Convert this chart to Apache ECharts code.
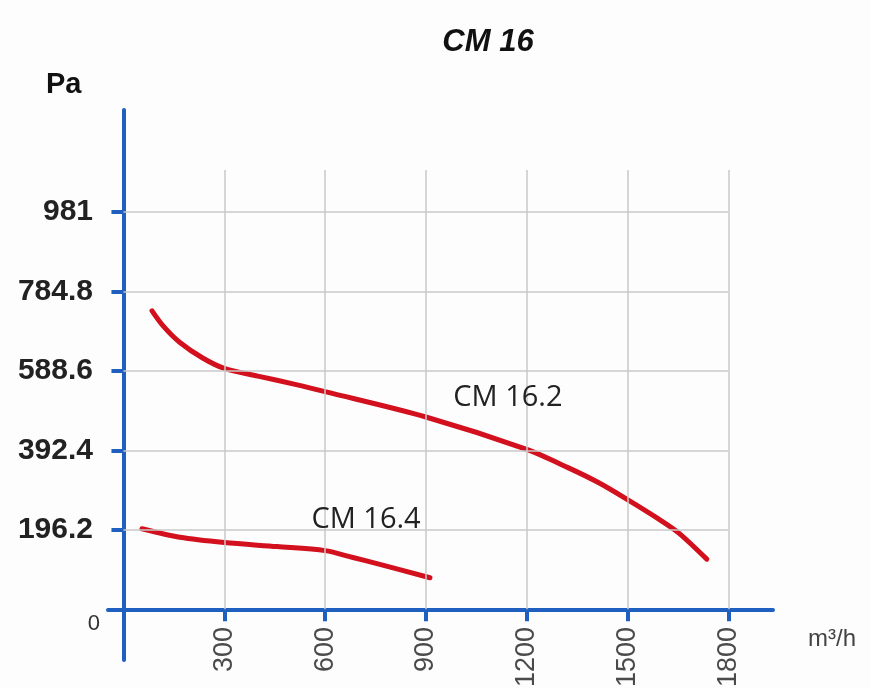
<!DOCTYPE html>
<html>
<head>
<meta charset="utf-8">
<script src="https://cdn.jsdelivr.net/npm/echarts@6/dist/echarts.min.js"></script>
<style>
html,body{margin:0;padding:0;background:#fdfdfd;}
#chart{width:871px;height:688px;}
</style>
</head>
<body>
<div id="chart"></div>
<script>
// ---- data ----
const chartTitle = 'CM 16';
const yUnit = 'Pa';
const xUnit = 'm\u00b3/h';
const xTicks = [300, 600, 900, 1200, 1500, 1800];
const yTicks = [196.2, 392.4, 588.6, 784.8, 981];
const cm162Name = 'CM 16.2';
const cm162X = [85, 118, 168, 237, 300, 400, 514, 603, 900, 1200, 1323, 1416, 1500, 1591, 1652, 1736];
const cm162Y = [737, 700, 659, 620, 595, 576, 555, 537, 475, 395, 350, 312, 271, 224, 189, 124];
const cm164Name = 'CM 16.4';
const cm164X = [55, 168, 300, 457, 600, 683, 763, 912];
const cm164Y = [199, 178, 165, 155, 145, 128, 111, 78];
const cm162LabelAt = [1144, 522];
const cm164LabelAt = [722, 221];
const gridTopValue = 1085;

// ---- build ----
const pairs = (xs, ys) => xs.map((x, i) => [x, ys[i]]);
const blue = '#1f5fbf';
const red = '#d2101e';
const gridColor = '#c9c9c9';

const gridLines = [];
xTicks.forEach(v => gridLines.push([{coord: [v, 0]}, {coord: [v, gridTopValue]}]));
yTicks.forEach(v => gridLines.push([{coord: [0, v]}, {coord: [xTicks[xTicks.length - 1], v]}]));

const chart = echarts.init(document.getElementById('chart'));
chart.setOption({
  backgroundColor: '#fdfdfd',
  animation: false,
  title: {
    text: chartTitle,
    left: 483, top: 22, textAlign: 'center',
    textStyle: {fontFamily: 'Liberation Sans', fontSize: 31, fontWeight: 'bold', fontStyle: 'italic', color: '#111'}
  },
  grid: {left: 108, right: 98, top: 110, bottom: 28, containLabel: false, outerBoundsMode: 'none'},
  xAxis: {
    type: 'value', min: -46, max: 1933,
    axisLine: {show: true, onZero: true, lineStyle: {color: blue, width: 4}},
    axisTick: {show: true, customValues: xTicks, length: 12, lineStyle: {color: blue, width: 4}},
    axisLabel: {show: true, customValues: xTicks, rotate: 90, margin: -33,
      formatter: v => String(v),
      fontFamily: 'Liberation Sans', fontSize: 27, color: '#4a4a4a'},
    splitLine: {show: false},
    name: xUnit, nameLocation: 'end', nameGap: 35,
    nameTextStyle: {fontFamily: 'Liberation Sans', fontSize: 24, color: '#444', verticalAlign: 'top', padding: [18, 0, 0, 0]}
  },
  yAxis: {
    type: 'value', min: -125, max: 1233,
    axisLine: {show: true, onZero: true, lineStyle: {color: blue, width: 4}},
    axisTick: {show: true, customValues: yTicks, length: 12, lineStyle: {color: blue, width: 4}},
    axisLabel: {show: true, customValues: [0].concat(yTicks), margin: 15,
      fontFamily: 'Liberation Sans', fontSize: 30, fontWeight: 'bold', color: '#222',
      formatter: v => v === 0 ? '{z|0}' : String(v),
      rich: {z: {fontFamily: 'Liberation Sans', fontSize: 22, fontWeight: 'normal', color: '#333', padding: [30, -7, 0, 0]}}
    },
    splitLine: {show: false},
    name: yUnit, nameLocation: 'end', nameGap: 11,
    nameTextStyle: {fontFamily: 'Liberation Sans', fontSize: 29, fontWeight: 'bold', color: '#111', align: 'right', padding: [0, 42, 0, 0]}
  },
  series: [
    {
      name: 'grid', type: 'line', data: [], silent: true,
      markLine: {silent: true, symbol: 'none', label: {show: false},
        lineStyle: {color: gridColor, width: 1.5, type: 'solid'}, data: gridLines},
      z: 1
    },
    {
      name: cm162Name, type: 'line', smooth: 0.3, showSymbol: false,
      data: pairs(cm162X, cm162Y),
      lineStyle: {color: red, width: 5, cap: 'round'},
      markPoint: {symbol: 'circle', symbolSize: 0, silent: true,
        label: {show: true, position: 'inside', formatter: cm162Name,
          fontFamily: 'Open Sans', fontSize: 29, color: '#222'},
        data: [{coord: cm162LabelAt}]},
      z: 3
    },
    {
      name: cm164Name, type: 'line', smooth: 0.3, showSymbol: false,
      data: pairs(cm164X, cm164Y),
      lineStyle: {color: red, width: 5, cap: 'round'},
      markPoint: {symbol: 'circle', symbolSize: 0, silent: true,
        label: {show: true, position: 'inside', formatter: cm164Name,
          fontFamily: 'Open Sans', fontSize: 29, color: '#222'},
        data: [{coord: cm164LabelAt}]},
      z: 3
    }
  ]
});
</script>
</body>
</html>
